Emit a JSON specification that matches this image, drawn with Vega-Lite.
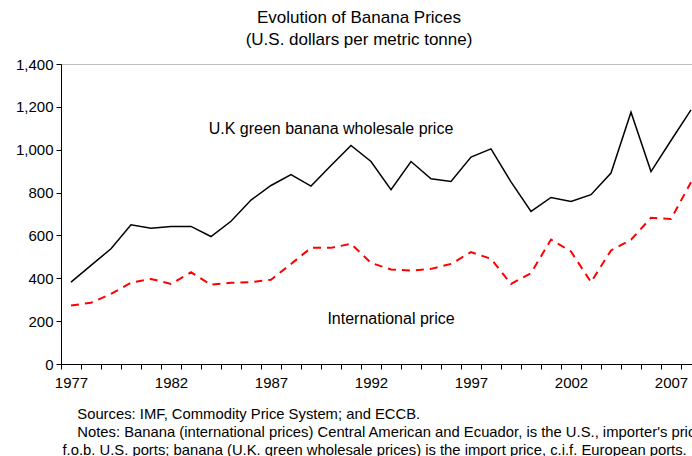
{
  "$schema": "https://vega.github.io/schema/vega-lite/v6.json",
  "width": 640,
  "height": 300,
  "autosize": {"type": "none"},
  "padding": {"left": 61, "top": 64, "right": 0, "bottom": 92},
  "background": "white",
  "config": {
    "font": "Liberation Sans",
    "view": {"stroke": "#c0c0c0", "strokeWidth": 1},
    "axis": {"labelFont": "Liberation Sans", "titleFont": "Liberation Sans", "labelColor": "#000", "titleColor": "#000", "domainColor": "#000", "tickColor": "#000", "grid": false}
  },
  "title": {
    "text": ["Evolution of Banana Prices", "(U.S. dollars per metric tonne)"],
    "anchor": "middle",
    "dx": -22,
    "offset": 8,
    "fontSize": 17,
    "fontWeight": "normal",
    "lineHeight": 22,
    "color": "#000",
    "font": "Liberation Sans"
  },
  "datasets": {
    "prices": [
      {"year": 1977, "uk": 382, "intl": 273},
      {"year": 1978, "uk": 460, "intl": 286},
      {"year": 1979, "uk": 538, "intl": 327},
      {"year": 1980, "uk": 650, "intl": 379},
      {"year": 1981, "uk": 634, "intl": 397},
      {"year": 1982, "uk": 642, "intl": 374},
      {"year": 1983, "uk": 642, "intl": 428},
      {"year": 1984, "uk": 595, "intl": 370},
      {"year": 1985, "uk": 666, "intl": 379},
      {"year": 1986, "uk": 765, "intl": 382},
      {"year": 1987, "uk": 833, "intl": 393},
      {"year": 1988, "uk": 884, "intl": 467},
      {"year": 1989, "uk": 830, "intl": 542},
      {"year": 1990, "uk": 926, "intl": 542},
      {"year": 1991, "uk": 1020, "intl": 561},
      {"year": 1992, "uk": 945, "intl": 472},
      {"year": 1993, "uk": 813, "intl": 441},
      {"year": 1994, "uk": 945, "intl": 436},
      {"year": 1995, "uk": 864, "intl": 444},
      {"year": 1996, "uk": 852, "intl": 467},
      {"year": 1997, "uk": 966, "intl": 522},
      {"year": 1998, "uk": 1004, "intl": 491},
      {"year": 1999, "uk": 850, "intl": 374},
      {"year": 2000, "uk": 712, "intl": 424},
      {"year": 2001, "uk": 777, "intl": 581},
      {"year": 2002, "uk": 758, "intl": 525},
      {"year": 2003, "uk": 790, "intl": 382},
      {"year": 2004, "uk": 891, "intl": 530},
      {"year": 2005, "uk": 1175, "intl": 580},
      {"year": 2006, "uk": 898, "intl": 682},
      {"year": 2007, "uk": 1043, "intl": 677},
      {"year": 2008, "uk": 1186, "intl": 848}
    ],
    "labels": [
      {"year": 1990.0, "value": 1099, "text": "U.K green banana wholesale price"},
      {"year": 1993.0, "value": 212, "text": "International price"}
    ]
  },
  "data": {"name": "prices"},
  "encoding": {
    "x": {
      "field": "year",
      "type": "quantitative",
      "scale": {"domain": [1976.5, 2008.5], "nice": false, "zero": false},
      "axis": {
        "values": [1976.5, 1977.5, 1978.5, 1979.5, 1980.5, 1981.5, 1982.5, 1983.5, 1984.5, 1985.5, 1986.5, 1987.5, 1988.5, 1989.5, 1990.5, 1991.5, 1992.5, 1993.5, 1994.5, 1995.5, 1996.5, 1997.5, 1998.5, 1999.5, 2000.5, 2001.5, 2002.5, 2003.5, 2004.5, 2005.5, 2006.5, 2007.5, 2008.5],
        "labelExpr": "(datum.value - 1976.5) % 5 == 0 ? format(datum.value + 0.5, 'd') : ''",
        "labelOffset": 10,
        "labelOverlap": false,
        "labelFlush": false,
        "labelFontSize": 15,
        "labelPadding": 6,
        "tickSize": 5,
        "title": ["\u200b\u2003Sources: IMF, Commodity Price System; and ECCB.", "\u200b\u2003Notes: Banana (international prices) Central American and Ecuador, is the U.S., importer's price", "f.o.b. U.S. ports; banana (U.K. green wholesale prices) is the import price, c.i.f. European ports."],
        "titleFontSize": 14.8,
        "titleFontWeight": "normal",
        "titleAnchor": "start",
        "titleAlign": "left",
        "titleLineHeight": 18,
        "titleX": 1,
        "titleY": 42
      }
    }
  },
  "layer": [
    {
      "mark": {"type": "line", "color": "#000", "strokeWidth": 1.5},
      "encoding": {
        "y": {
          "field": "uk",
          "type": "quantitative",
          "scale": {"domain": [0, 1400], "nice": false},
          "axis": {"values": [0, 200, 400, 600, 800, 1000, 1200, 1400], "format": ",d", "labelFontSize": 15, "labelPadding": 3, "tickSize": 5, "title": null}
        }
      }
    },
    {
      "mark": {"type": "line", "color": "#ff0000", "strokeWidth": 2, "strokeDash": [8, 6]},
      "encoding": {"y": {"field": "intl", "type": "quantitative"}}
    },
    {
      "data": {"name": "labels"},
      "mark": {"type": "text", "fontSize": 16, "color": "#000", "font": "Liberation Sans"},
      "encoding": {
        "y": {"field": "value", "type": "quantitative"},
        "text": {"field": "text"}
      }
    }
  ]
}
